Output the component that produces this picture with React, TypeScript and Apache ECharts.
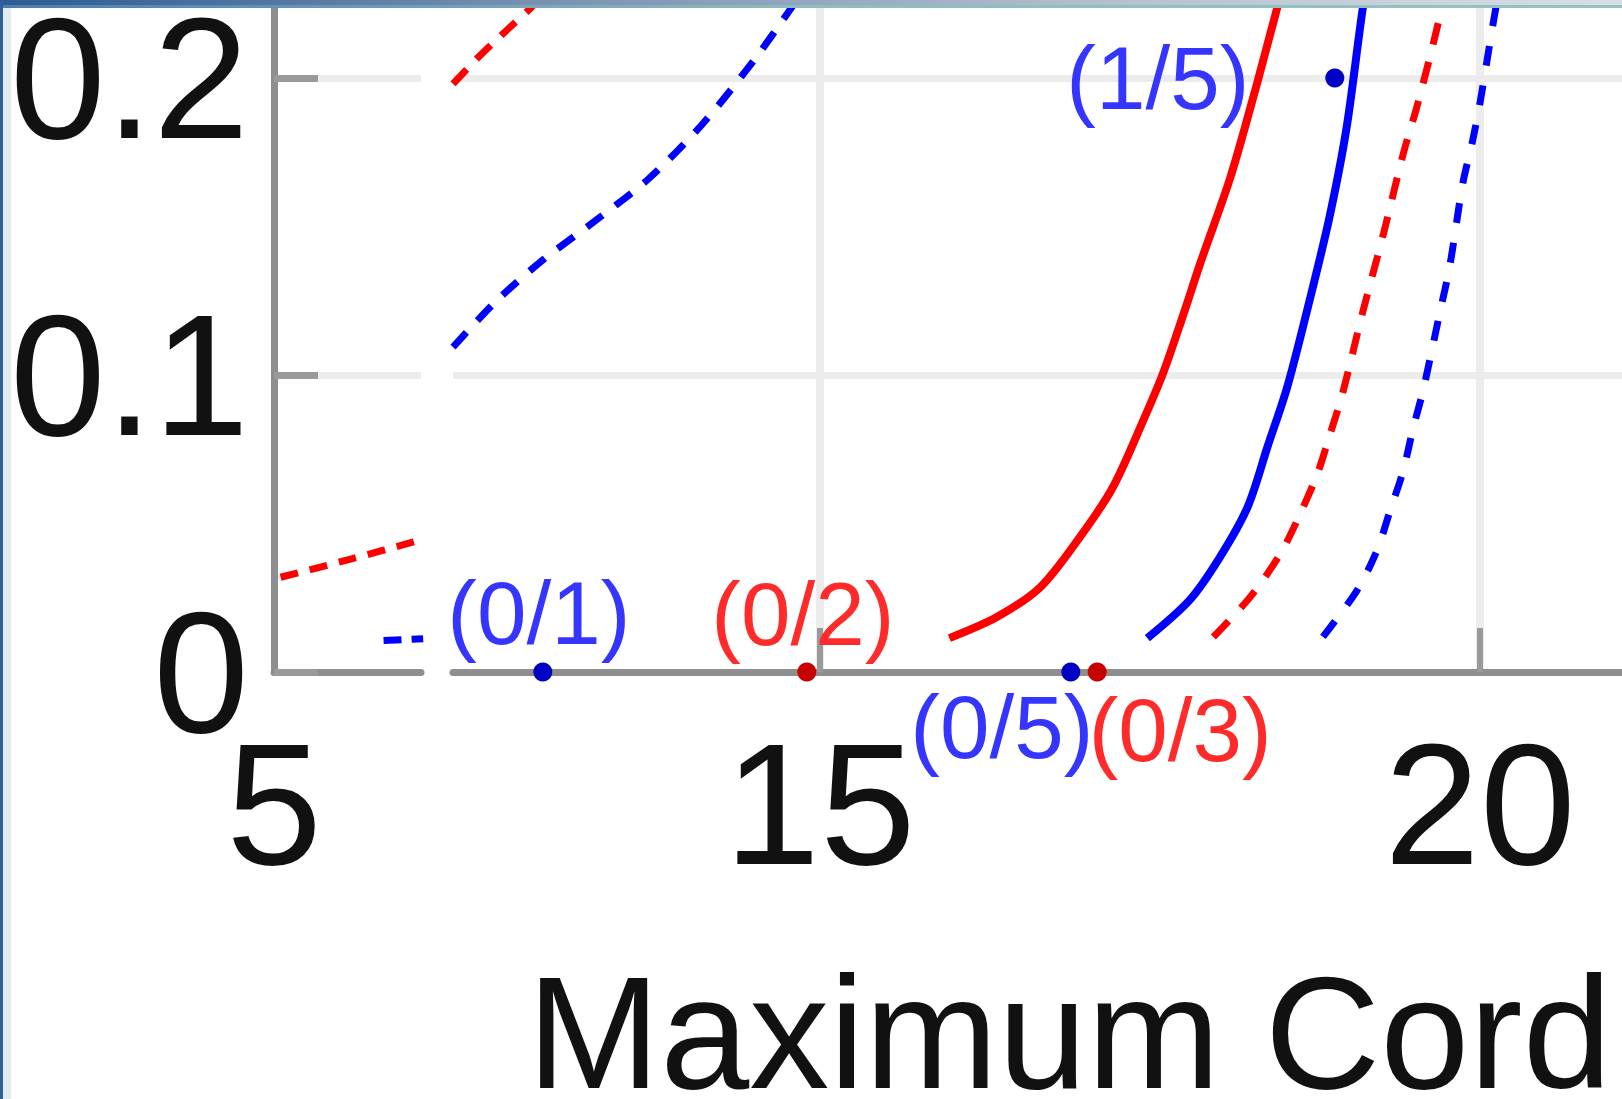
import React, { useEffect, useRef } from 'react';
import * as echarts from 'echarts';

const FONT = '"Liberation Sans", Arial, sans-serif';

// Value ranges of the two panels of the broken x axis, and of the y axis
const leftPanelRange = [5, 6.1136];
const rightPanelRange = [12.2197, 21.0758];
const yRange = [0, 0.22357];

// Tick positions
const leftTickValues = [5];
const rightTickValues = [15, 20];
const yTickValues = [0, 0.1, 0.2];

// Curves in the narrow left panel
const redDashedLeft = [[5.05, 0.0319], [5.58, 0.038], [6.05, 0.0437], [6.13, 0.0447]];
const blueDashedLeft = [[5.83, 0.0106], [6.13, 0.0112]];

// Curves in the main panel
const redDashedUpper = [[12.22, 0.198], [12.4, 0.2065], [12.6, 0.215], [12.8, 0.2232], [12.86, 0.226]];
const blueDashedUpper = [
  [12.22, 0.1094], [12.55, 0.125], [12.9, 0.1387], [13.3, 0.152], [13.7, 0.166],
  [14.1, 0.184], [14.5, 0.206], [14.82, 0.226],
];
const redSolid = [
  [15.98, 0.0114], [16.34, 0.0185], [16.67, 0.0286], [16.97, 0.0455], [17.22, 0.0623],
  [17.45, 0.0848], [17.6, 0.1007], [17.75, 0.12], [17.88, 0.1375], [18.11, 0.1667],
  [18.31, 0.198], [18.46, 0.223], [18.5, 0.229],
];
const blueSolid = [
  [17.48, 0.0114], [17.8, 0.0242], [18.03, 0.0387], [18.24, 0.0556], [18.39, 0.0758],
  [18.54, 0.096], [18.71, 0.1253], [18.86, 0.1532], [18.99, 0.1835], [19.11, 0.2229], [19.14, 0.229],
];
const redDashed = [
  [17.98, 0.0118], [18.26, 0.0253], [18.49, 0.04], [18.64, 0.0535], [18.77, 0.067],
  [18.86, 0.0795], [18.96, 0.094], [19.11, 0.1209], [19.27, 0.1478], [19.42, 0.1747],
  [19.52, 0.19], [19.62, 0.207], [19.71, 0.2236], [19.73, 0.229],
];
const blueDashed = [
  [18.81, 0.0118], [19.07, 0.0276], [19.22, 0.041], [19.32, 0.0545], [19.42, 0.068],
  [19.49, 0.0815], [19.57, 0.095], [19.7, 0.1219], [19.77, 0.1364], [19.87, 0.1646],
  [19.94, 0.178], [20.0, 0.1916], [20.05, 0.205], [20.1, 0.2185], [20.12, 0.2236], [20.14, 0.229],
];

// Annotated points
const blueDots = [[12.9, 0], [16.9, 0], [18.9, 0.2]];
const blueDotLabels = ['(0/1)', '(0/5)', '(1/5)'];
const redDots = [[14.9, 0], [17.1, 0]];
const redDotLabels = ['(0/2)', '(0/3)'];

const xTitle = 'Maximum Cord';

// Label placement relative to each point
const blueLabelOffsets = [[-4, -59], [-69, 55], [-177, 0]];
const redLabelOffsets = [[-4, -58], [83, 58]];

const AXIS_GRAY = '#8e8e8e';
const TICK_GRAY = '#9a9a9a';
const GRID_GRAY = '#ececec';
const RED = '#ff0000';
const BLUE = '#0000ff';

function lineSeries(data: number[][], color: string, dash: number[] | 'solid', width: number, panel: number) {
  return {
    type: 'line',
    xAxisIndex: panel,
    yAxisIndex: panel,
    data,
    showSymbol: false,
    symbol: 'none',
    smooth: 0.3,
    clip: true,
    lineStyle: { color, width, type: dash, cap: 'butt' },
    silent: true,
    z: 3,
  };
}

function dotSeries(points: number[][], names: string[], offsets: number[][], dotColor: string, textColor: string) {
  return {
    type: 'scatter',
    xAxisIndex: 1,
    yAxisIndex: 1,
    clip: false,
    symbolSize: 19,
    itemStyle: { color: dotColor, opacity: 1 },
    z: 5,
    data: points.map((p, i) => ({
      value: p,
      label: { offset: offsets[i] },
    })),
    label: {
      show: true,
      position: 'inside',
      align: 'center',
      verticalAlign: 'middle',
      formatter: (p: any) => names[p.dataIndex],
      color: textColor,
      fontFamily: FONT,
      fontSize: 89,
    },
  };
}

export default function App() {
  const ref = useRef<HTMLDivElement>(null);

  useEffect(() => {
    if (!ref.current) return;
    const chart = echarts.init(ref.current, null, { renderer: 'svg' });

    const tickLabel = {
      color: '#111111',
      fontFamily: FONT,
      fontSize: 172,
    };

    const option = {
      animation: false,
      backgroundColor: '#ffffff',
      grid: [
        { left: 274, top: 8, width: 147, height: 664, containLabel: false, outerBoundsMode: 'none' },
        { left: 453, top: 8, width: 1169, height: 664, containLabel: false, outerBoundsMode: 'none' },
      ],
      xAxis: [
        {
          type: 'value',
          gridIndex: 0,
          min: leftPanelRange[0],
          max: leftPanelRange[1],
          axisLine: { show: true, onZero: false, lineStyle: { color: AXIS_GRAY, width: 7 } },
          axisTick: { show: false, customValues: leftTickValues },
          axisLabel: { ...tickLabel, lineHeight: 172, margin: 46, customValues: leftTickValues },
          splitLine: { show: false },
        },
        {
          type: 'value',
          gridIndex: 1,
          min: rightPanelRange[0],
          max: rightPanelRange[1],
          axisLine: { show: true, onZero: false, lineStyle: { color: AXIS_GRAY, width: 7 } },
          axisTick: {
            show: true,
            inside: true,
            length: 44,
            customValues: rightTickValues,
            lineStyle: { color: TICK_GRAY, width: 6 },
          },
          axisLabel: { ...tickLabel, lineHeight: 172, margin: 46, customValues: rightTickValues },
          splitLine: { show: true, lineStyle: { color: GRID_GRAY, width: 8 } },
        },
      ],
      yAxis: [
        {
          type: 'value',
          gridIndex: 0,
          min: yRange[0],
          max: yRange[1],
          axisLine: { show: true, onZero: false, lineStyle: { color: AXIS_GRAY, width: 7 } },
          axisTick: {
            show: true,
            inside: true,
            length: 44,
            customValues: yTickValues,
            lineStyle: { color: TICK_GRAY, width: 7 },
          },
          axisLabel: {
            ...tickLabel,
            lineHeight: 130,
            margin: 25,
            customValues: yTickValues,
            formatter: (v: number) => String(v),
          },
          splitLine: { show: true, lineStyle: { color: GRID_GRAY, width: 7 } },
        },
        {
          type: 'value',
          gridIndex: 1,
          min: yRange[0],
          max: yRange[1],
          axisLine: { show: false },
          axisTick: { show: false, customValues: yTickValues.slice(1) },
          axisLabel: { show: false, customValues: yTickValues.slice(1) },
          splitLine: { show: true, lineStyle: { color: GRID_GRAY, width: 7 } },
        },
      ],
      series: [
        lineSeries(redDashedLeft, RED, [18, 12], 7, 0),
        lineSeries(blueDashedLeft, BLUE, [18, 10], 7, 0),
        lineSeries(redDashedUpper, RED, [20, 14], 7, 1),
        lineSeries(blueDashedUpper, BLUE, [20, 16], 7, 1),
        lineSeries(redSolid, RED, 'solid', 8, 1),
        lineSeries(blueSolid, BLUE, 'solid', 8, 1),
        lineSeries(redDashed, RED, [22, 18], 7, 1),
        lineSeries(blueDashed, BLUE, [20, 20], 7, 1),
        dotSeries(blueDots, blueDotLabels, blueLabelOffsets, '#0000c4', '#3535ff'),
        dotSeries(redDots, redDotLabels, redLabelOffsets, '#c80000', '#ff2a2a'),
      ],
      graphic: [
        {
          type: 'rect',
          z: 100,
          shape: { x: 0, y: 0, width: 1622, height: 6 },
          style: {
            fill: new echarts.graphic.LinearGradient(0, 0, 1, 0, [
              { offset: 0, color: '#2e5b93' },
              { offset: 0.35, color: '#7d93b3' },
              { offset: 0.7, color: '#b6c2cf' },
              { offset: 1, color: '#d9dee5' },
            ]),
          },
        },
        {
          type: 'rect',
          z: 100,
          shape: { x: 0, y: 5, width: 1622, height: 3 },
          style: {
            fill: new echarts.graphic.LinearGradient(0, 0, 1, 0, [
              { offset: 0, color: '#4a7fae' },
              { offset: 0.5, color: '#8dbdbd' },
              { offset: 1, color: '#93c3c3' },
            ]),
          },
        },
        {
          type: 'rect',
          z: 100,
          shape: { x: 0, y: 0, width: 3, height: 1099 },
          style: { fill: '#2f5f9c' },
        },
        {
          type: 'rect',
          z: 100,
          shape: { x: 3, y: 8, width: 8, height: 1091 },
          style: { fill: '#e3ecef' },
        },
        {
          type: 'text',
          z: 50,
          style: {
            text: xTitle,
            x: 527,
            y: 1032,
            fill: '#111111',
            font: `160px ${FONT}`,
            textAlign: 'left',
            textVerticalAlign: 'middle',
            verticalAlign: 'middle',
          },
        },
      ],
    };

    chart.setOption(option as any);
    return () => chart.dispose();
  }, []);

  return (
    <div
      ref={ref}
      style={{ position: 'absolute', left: 0, top: 0, width: 1622, height: 1099 }}
    />
  );
}
